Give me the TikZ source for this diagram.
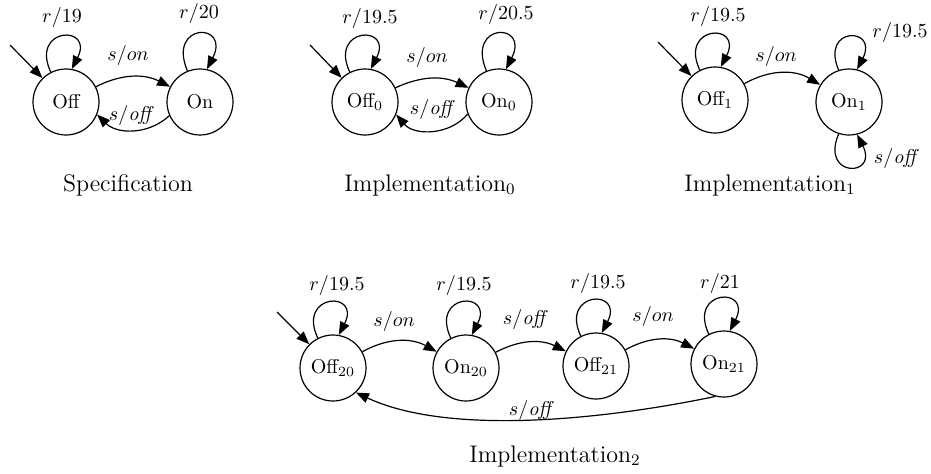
\documentclass[tikz,border=0pt]{standalone}
\usetikzlibrary{arrows.meta}
\begin{document}
\begin{tikzpicture}[x=0.5pt,y=0.5pt,
  state/.style={circle,draw,line width=0.6pt,minimum size=33pt,inner sep=0pt,font=\normalsize},
  edge/.style={line width=0.6pt,-{Triangle[length=6.5pt,width=5pt]}},
  lbl/.style={inner sep=0pt,font=\normalsize},
  captxt/.style={inner sep=0pt,font=\large}]
\useasboundingbox (0,0) rectangle (931,473);
% ---------- Specification ----------
\node[state] (Off) at (66,371) {Off};
\node[state] (On) at (200,371) {On};
\coordinate (i1) at (10,428);
\draw[edge] (i1) -- (Off);
\draw[edge] (Off) to[bend left=27] (On);
\draw[edge] (On.204) to[bend left=44] (Off.338);
\draw[edge] (Off.117) .. controls +(115:50) and +(63:50) .. (Off.80);
\draw[edge] (On.112) .. controls +(113:53) and +(63:53) .. (On.78);
\node[lbl] (l1) at (62,456) {$r/19$};
\node[lbl] (l2) at (199,460) {$r/20$};
\node[lbl] (l3) at (128,418) {$s/on$};
\node[lbl] (l4) at (132,358) {$s/\mathit{off}$};
\node[captxt] (c1) at (128,288) {Specification};
% ---------- Implementation_0 ----------
\node[state] (Off0) at (365,371) {Off$_0$};
\node[state] (On0) at (499,371) {On$_0$};
\coordinate (i2) at (310,428);
\draw[edge] (i2) -- (Off0);
\draw[edge] (Off0) to[bend left=25] (On0);
\draw[edge] (On0.201) to[bend left=50] (Off0.338);
\draw[edge] (Off0.117) .. controls +(115:50) and +(63:50) .. (Off0.80);
\draw[edge] (On0.112) .. controls +(113:53) and +(63:53) .. (On0.78);
\node[lbl] (l5) at (370,455) {$r/19.5$};
\node[lbl] (l6) at (506,459) {$r/20.5$};
\node[lbl] (l7) at (427,416) {$s/on$};
\node[lbl] (l8) at (433,364) {$s/\mathit{off}$};
\node[captxt] (c2) at (430,288) {Implementation$_0$};
% ---------- Implementation_1 ----------
\node[state] (Off1) at (715,373) {Off$_1$};
\node[state] (On1) at (849,371) {On$_1$};
\coordinate (i3) at (658,431);
\draw[edge] (i3) -- (Off1);
\draw[edge] (Off1) to[bend left=30] (On1);
\draw[edge] (Off1.117) .. controls +(115:50) and +(63:50) .. (Off1.80);
\draw[edge] (On1.108) .. controls +(113:48) and +(63:48) .. (On1.76);
\draw[edge] (On1.252) .. controls +(247:48) and +(297:48) .. (On1.284);
\node[lbl] (l9) at (718,457) {$r/19.5$};
\node[lbl] (l10) at (776,417) {$s/on$};
\node[lbl] (l11) at (900,441) {$r/19.5$};
\node[lbl] (l12) at (897,315) {$s/\mathit{off}$};
\node[captxt] (c3) at (770,288) {Implementation$_1$};
% ---------- Implementation_2 ----------
\node[state] (Off20) at (333,105) {Off$_{20}$};
\node[state] (On20) at (466,105) {On$_{20}$};
\node[state] (Off21) at (596,107) {Off$_{21}$};
\node[state] (On21) at (724,109) {On$_{21}$};
\coordinate (i4) at (277,161);
\draw[edge] (i4) -- (Off20);
\draw[edge] (Off20) to[bend left=29] (On20);
\draw[edge] (On20) to[bend left=27] (Off21);
\draw[edge] (Off21) to[bend left=28] (On21);
\draw[edge] (On21.255) .. controls +(-120,-25) and +(90,-42) .. (Off20.313);
\draw[edge] (Off20.117) .. controls +(115:50) and +(63:50) .. (Off20.80);
\draw[edge] (On20.117) .. controls +(115:50) and +(63:50) .. (On20.80);
\draw[edge] (Off21.117) .. controls +(115:50) and +(63:50) .. (Off21.80);
\draw[edge] (On21.117) .. controls +(115:50) and +(63:50) .. (On21.80);
\node[lbl] (l13) at (337,188) {$r/19.5$};
\node[lbl] (l14) at (464,188) {$r/19.5$};
\node[lbl] (l15) at (598,190) {$r/19.5$};
\node[lbl] (l16) at (720,190) {$r/21$};
\node[lbl] (l17) at (394,152) {$s/on$};
\node[lbl] (l18) at (526,154) {$s/\mathit{off}$};
\node[lbl] (l19) at (653,157) {$s/on$};
\node[lbl] (l20) at (532,63) {$s/\mathit{off}$};
\node[captxt] (c4) at (555,17) {Implementation$_2$};
\end{tikzpicture}
\end{document}
